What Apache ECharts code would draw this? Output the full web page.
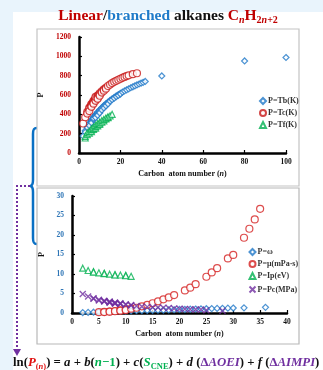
<!DOCTYPE html>
<html>
<head>
<meta charset="utf-8">
<script src="https://cdn.jsdelivr.net/npm/echarts@6/dist/echarts.min.js"></script>
<style>
  html, body { margin: 0; padding: 0; background: #fff; }
  #chart { width: 323px; height: 370px; }
</style>
</head>
<body>
<div id="chart"></div>
<script>
// top panel: temperatures (K) vs carbon number
const tbData = [[2,175],[3,231],[3,215],[4,273],[4,261],[5,309],[5,301],[5,283],[6,342],[6,333],[6,336],[6,323],[6,312],
  [7,372],[7,363],[7,365],[7,353],[7,345],[7,359],[8,399],[8,390],[8,391],[8,382],[8,373],[8,366],[9,424],[9,416],[9,404],[9,398],[9,390],
  [10,447],[10,439],[10,425],[10,415],[11,469],[11,460],[11,444],[12,490],[12,482],[12,466],[13,509],[13,500],[13,488],[14,527],[14,518],[14,508],
  [15,544],[15,536],[16,560],[16,552],[17,575],[17,567],[18,590],[18,582],[19,603],[19,596],[20,617],[20,610],[21,630],[22,642],[23,653],
  [24,664],[25,675],[26,685],[27,695],[28,705],[29,714],[30,723],[31,731],[32,740],[40,797],[80,952],[100,988]];
const tcData = [[2,305],[3,370],[4,425],[4,408],[5,470],[5,460],[5,434],[6,507],[6,498],[6,488],[6,478],[7,540],[7,530],[7,520],[7,510],
  [8,569],[8,559],[8,550],[8,540],[8,580],[9,595],[9,585],[9,570],[9,560],[10,618],[10,605],[10,592],[11,639],[11,625],[12,658],[12,645],
  [13,675],[13,665],[14,693],[15,708],[16,723],[17,736],[18,747],[19,758],[20,768],[21,778],[22,787],[23,796],[24,804],[26,815],[28,825]];
const tfData = [[3,155],[3,172],[4,190],[4,210],[5,205],[5,224],[6,222],[6,240],[6,251],[7,245],[7,258],[7,269],[8,258],[8,272],[8,286],
  [9,280],[9,294],[9,304],[10,295],[10,310],[10,319],[11,318],[11,335],[12,332],[12,347],[13,352],[13,362],[14,366],[14,373],[15,385],[16,400]];

// bottom panel
const omegaData = [[2,0.1],[3,0.15],[4,0.2],[5,0.25],[6,0.3],[7,0.35],[8,0.4],[9,0.45],[10,0.49],[11,0.54],[12,0.58],[13,0.62],[14,0.64],
  [15,0.69],[16,0.72],[17,0.75],[18,0.8],[19,0.83],[20,0.91],[21,0.94],[22,0.98],[23,1.02],[24,1.06],[25,1.1],[26,1.13],[27,1.17],[28,1.2],
  [29,1.24],[30,1.27],[32,1.33],[36,1.45]];
const muData = [[5,0.22],[6,0.3],[6,0.25],[7,0.39],[7,0.33],[8,0.51],[8,0.45],[9,0.67],[9,0.6],[10,0.85],[10,0.75],[11,1.1],[12,1.35],
  [13,1.7],[14,2.1],[15,2.5],[16,3.0],[17,3.5],[18,4.0],[19,4.6],[21,5.8],[22,6.5],[23,7.4],[25,9.3],[26,10.4],[27,11.5],[29,14.0],
  [30,14.9],[32,19.3],[33,21.6],[34,24.0],[35,26.7]];
const ipData = [[2,11.5],[3,10.9],[4,10.6],[4,10.5],[5,10.3],[6,10.2],[6,10.1],[7,9.95],[8,9.85],[8,9.75],[9,9.75],[10,9.65],[10,9.55],[11,9.4]];
const pcData = [[2,4.87],[3,4.25],[4,3.8],[4,3.64],[5,3.37],[5,3.2],[6,3.02],[6,3.12],[6,2.95],[7,2.74],[7,2.85],[7,2.95],[7,2.65],
  [8,2.49],[8,2.57],[8,2.7],[8,2.4],[9,2.29],[9,2.4],[9,2.5],[10,2.11],[10,2.25],[11,1.95],[11,2.05],[12,1.82],[13,1.68],[14,1.57],
  [15,1.48],[16,1.4],[17,1.34],[18,1.29],[19,1.16],[20,1.11],[21,1.03],[22,0.98],[23,0.92],[24,0.87],[25,0.7],[28,0.6]];

const topLegend = ['P=Tb(K)', 'P=Tc(K)', 'P=Tf(K)'];
const botLegend = ['P=ω', 'P=μ(mPa·s)', 'P=Ip(eV)', 'P=Pc(MPa)'];

const SERIF = '"Liberation Serif", "Times New Roman", serif';
const BLUE = '#1f78c8', RED = '#d42020', GREEN = '#00b050', PURPLE = '#7030a0';

const chart = echarts.init(document.getElementById('chart'));

function axisX(idx, max, interval, gap) {
  return {
    gridIndex: idx, type: 'value', min: 0, max: max, interval: interval,
    name: '{t|Carbon  atom number (}{i|n}{t|)}', nameLocation: 'middle', nameGap: gap,
    nameTextStyle: { rich: {
      t: { fontFamily: SERIF, fontWeight: 'bold', fontSize: 8, color: '#111' },
      i: { fontFamily: SERIF, fontWeight: 'bold', fontStyle: 'italic', fontSize: 8, color: '#111' } } },
    axisLine: { show: true, onZero: false, lineStyle: { color: '#000', width: 2.5 } },
    axisTick: { show: true, inside: true, length: 3, lineStyle: { color: '#000', width: 1.2 } },
    axisLabel: { fontFamily: SERIF, fontWeight: 'bold', fontSize: 7.5, color: '#111', margin: 5,
      formatter: (v) => String(v) },
    splitLine: { show: false }
  };
}
function axisY(idx, max, interval, color, gap) {
  return {
    gridIndex: idx, type: 'value', min: 0, max: max, interval: interval,
    name: 'P', nameLocation: 'middle', nameGap: gap, nameRotate: 90,
    nameTextStyle: { fontFamily: SERIF, fontWeight: 'bold', fontSize: 8, color: '#111' },
    axisLine: { show: true, onZero: false, lineStyle: { color: '#000', width: 2.5 } },
    axisTick: { show: true, inside: true, length: 3, lineStyle: { color: '#000', width: 1.2 } },
    axisLabel: { fontFamily: SERIF, fontWeight: 'bold', fontSize: 7.5, color: color, margin: 8,
      formatter: (v) => String(v) },
    splitLine: { show: false }
  };
}
function hollow(name, data, idx, symbol, size, color) {
  return {
    name: name, type: 'scatter', xAxisIndex: idx, yAxisIndex: idx,
    data: data, symbol: symbol, symbolSize: size,
    itemStyle: { color: '#fff', borderColor: color, borderWidth: 1.2 }
  };
}

// subscripts: centred like the main text, pushed down by half the top padding
const sub = (o) => Object.assign({ fontFamily: SERIF, fontWeight: 'bold', verticalAlign: 'middle', lineHeight: 10, padding: [8, 0, 0, 0] }, o);
const main = (o) => Object.assign({ fontFamily: SERIF, fontWeight: 'bold', lineHeight: 18, verticalAlign: 'middle' }, o);

// brace pieces
const BRACE = { fill: 'none', stroke: '#0a70c4', lineWidth: 2.5 };

const options = {
  backgroundColor: '#fff',
  animation: false,
  grid: [
    { left: 79, right: 37, top: 37, bottom: 217 },
    { left: 72, right: 36, top: 196, bottom: 57 }
  ],
  xAxis: [axisX(0, 100, 20, 17), axisX(1, 40, 5, 17)],
  yAxis: [axisY(0, 1200, 200, '#c00000', 31), axisY(1, 30, 5, '#2e75b6', 23)],
  legend: [
    { data: topLegend, orient: 'vertical', left: 254, top: 92, itemWidth: 6, itemHeight: 6, itemGap: 4,
      textStyle: { fontFamily: SERIF, fontWeight: 'bold', fontSize: 8, color: '#333', padding: [0, 0, 0, -3] } },
    { data: botLegend, orient: 'vertical', left: 242, top: 243, itemWidth: 6, itemHeight: 6, itemGap: 4,
      textStyle: { fontFamily: SERIF, fontWeight: 'bold', fontSize: 8, color: '#333', padding: [0, 0, 0, -3] } }
  ],
  series: [
    hollow('P=Tb(K)', tbData, 0, 'diamond', 6, BLUE),
    hollow('P=Tc(K)', tcData, 0, 'circle', 7, '#c81818'),
    hollow('P=Tf(K)', tfData, 0, 'triangle', 6, GREEN),
    hollow('P=ω', omegaData, 1, 'diamond', 6, BLUE),
    hollow('P=μ(mPa·s)', muData, 1, 'circle', 7, RED),
    hollow('P=Ip(eV)', ipData, 1, 'triangle', 6, GREEN),
    {
      name: 'P=Pc(MPa)', type: 'scatter', xAxisIndex: 1, yAxisIndex: 1, data: pcData,
      symbol: 'path://M0,0L10,10M10,0L0,10', symbolSize: 6,
      itemStyle: { color: 'none', borderColor: PURPLE, borderWidth: 1.4 }
    }
  ],
  graphic: [
    // page background bands
    { type: 'rect', z: -10, shape: { x: 0, y: 0, width: 323, height: 12 }, style: { fill: '#e9f4fc' } },
    { type: 'rect', z: -10, shape: { x: 0, y: 0, width: 13, height: 370 }, style: { fill: '#e9f4fc' } },
    // panel frames
    { type: 'rect', z: -5, shape: { x: 37, y: 29, width: 262, height: 157 }, style: { fill: 'none', stroke: '#c4c4c4', lineWidth: 1.2 } },
    { type: 'rect', z: -5, shape: { x: 37, y: 188, width: 262, height: 156 }, style: { fill: 'none', stroke: '#b8b8b8', lineWidth: 1.2 } },
    // brace
    { type: 'bezierCurve', z: 5, shape: { x1: 36.5, y1: 128, cpx1: 33.5, cpy1: 128, cpx2: 33, cpy2: 130, x2: 33, y2: 134 }, style: BRACE },
    { type: 'line', z: 5, shape: { x1: 33, y1: 134, x2: 33, y2: 180 }, style: BRACE },
    { type: 'bezierCurve', z: 5, shape: { x1: 33, y1: 180, cpx1: 33, cpy1: 184, cpx2: 32, cpy2: 186, x2: 30, y2: 186 }, style: BRACE },
    { type: 'bezierCurve', z: 5, shape: { x1: 30, y1: 186, cpx1: 32, cpy1: 186, cpx2: 33, cpy2: 188, x2: 33, y2: 192 }, style: BRACE },
    { type: 'line', z: 5, shape: { x1: 33, y1: 192, x2: 33, y2: 238 }, style: BRACE },
    { type: 'bezierCurve', z: 5, shape: { x1: 33, y1: 238, cpx1: 33, cpy1: 242, cpx2: 33.5, cpy2: 244, x2: 36.5, y2: 244 }, style: BRACE },
    // dotted arrow
    { type: 'polyline', z: 5, shape: { points: [[30, 186], [17, 186], [17, 350]] },
      style: { fill: 'none', stroke: PURPLE, lineWidth: 2, lineDash: [2, 2] } },
    { type: 'polygon', z: 5, shape: { points: [[13, 349], [21, 349], [17, 356]] }, style: { fill: PURPLE } },
    // title
    { type: 'text', z: 5, x: 168, y: 16, style: {
        text: '{r|Linear}{k|/}{b|branched}{k| alkanes }{r|C}{rsi|n}{r|H}{rs|2}{rsi|n}{rs|+2}',
        align: 'center', verticalAlign: 'middle',
        rich: {
          r: main({ fontSize: 15.5, fill: '#c00000' }),
          k: main({ fontSize: 15.5, fill: '#111' }),
          b: main({ fontSize: 15.5, fill: '#1f7bc9' }),
          rs: sub({ fontSize: 10, fill: '#c00000' }),
          rsi: sub({ fontSize: 10, fill: '#c00000', fontStyle: 'italic' })
        } } },
    // formula
    { type: 'text', z: 5, x: 13, y: 363, style: {
        text: '{k|ln(}{pi|P}{ps|(}{psi|n}{ps|)}{k|) = }{ki|a}{k| + }{ki|b}{k|(}{gi|n}{g|−1}{k|) + }{ki|c}{k|(}{gi|S}{gs|CNE}{k|) + }{ki|d}{k| (}{v|Δ}{vi|AOEI}{k|) + }{ki|f}{k| (}{v|Δ}{vi|AIMPI}{k|)}',
        align: 'left', verticalAlign: 'middle',
        rich: {
          k: main({ fontSize: 12.8, fill: '#111' }),
          ki: main({ fontSize: 12.8, fill: '#111', fontStyle: 'italic' }),
          pi: main({ fontSize: 12.8, fill: '#e01010', fontStyle: 'italic' }),
          ps: sub({ fontSize: 8.5, fill: '#e01010' }),
          psi: sub({ fontSize: 8.5, fill: '#e01010', fontStyle: 'italic' }),
          g: main({ fontSize: 12.8, fill: GREEN }),
          gi: main({ fontSize: 12.8, fill: GREEN, fontStyle: 'italic' }),
          gs: sub({ fontSize: 8.5, fill: GREEN }),
          v: main({ fontSize: 12.8, fill: PURPLE }),
          vi: main({ fontSize: 12.8, fill: PURPLE, fontStyle: 'italic' })
        } } }
  ]
};
chart.setOption(options);
</script>
</body>
</html>
